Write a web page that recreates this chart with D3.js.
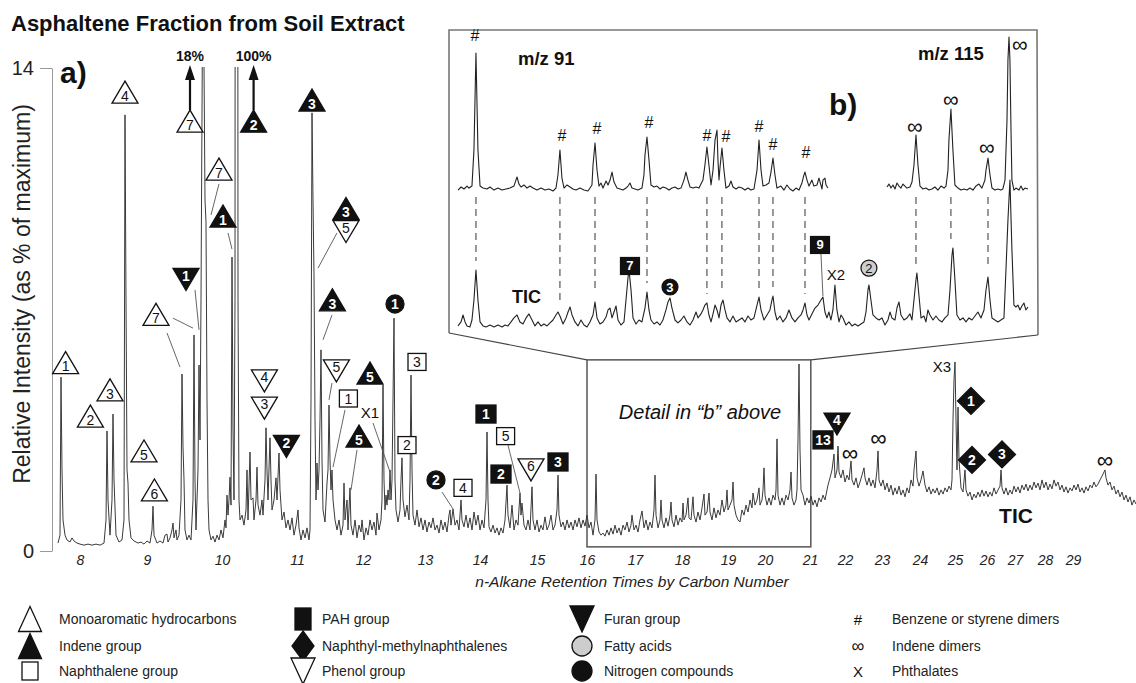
<!DOCTYPE html>
<html><head><meta charset="utf-8">
<script src="https://cdn.jsdelivr.net/npm/d3@7"></script>
<style>
body{margin:0;background:#fff}
svg{display:block}
text{font-family:"Liberation Sans",Arial,Helvetica,sans-serif}
</style>
</head><body>
<svg id="c" width="1136" height="683"></svg>
<script>
// ---------------- DATA ----------------
// Total ion chromatogram: [retention time (min), relative intensity (% of max)]
const tracePoints = [[1.45,0.23],[1.50,0.46],[1.525,5.04],[1.55,2.35],[1.575,0.90],[1.625,0.46],[1.675,0.32],[1.75,0.26],[1.80,0.38],[1.85,0.29],[1.925,0.23],[2.00,0.20],[2.10,0.17],[2.20,0.20],[2.30,0.17],[2.40,0.20],[2.50,0.17],[2.60,0.23],[2.65,0.90],[2.675,3.48],[2.70,1.48],[2.75,0.46],[2.80,1.48],[2.825,3.97],[2.85,2.06],[2.90,0.46],[2.975,0.26],[3.05,0.32],[3.10,0.90],[3.125,12.64],[3.15,7.28],[3.175,2.35],[3.20,1.97],[3.225,0.90],[3.275,0.38],[3.35,0.29],[3.45,0.23],[3.525,0.26],[3.60,0.20],[3.675,0.29],[3.75,0.23],[3.80,0.61],[3.825,1.30],[3.85,0.46],[3.925,0.23],[4.00,0.29],[4.075,0.23],[4.125,0.46],[4.175,0.49],[4.20,0.26],[4.25,0.38],[4.30,0.61],[4.325,0.81],[4.35,0.38],[4.40,0.61],[4.425,0.32],[4.475,0.46],[4.525,1.48],[4.55,5.13],[4.575,3.01],[4.60,2.06],[4.625,0.61],[4.675,0.32],[4.725,0.46],[4.775,0.32],[4.825,1.48],[4.85,6.26],[4.875,2.06],[4.90,0.61],[4.925,1.48],[4.95,2.35],[4.975,5.39],[5.00,3.22],[5.025,7.28],[5.075,18],[5.125,10.17],[5.15,9.54],[5.175,4.38],[5.20,1.48],[5.225,0.61],[5.275,0.32],[5.325,0.43],[5.375,0.26],[5.425,0.46],[5.475,0.32],[5.525,0.61],[5.575,0.38],[5.625,0.90],[5.65,0.67],[5.675,1.62],[5.70,1.04],[5.725,1.48],[5.75,2.14],[5.775,1.33],[5.80,8.52],[5.825,3.51],[5.85,1.48],[5.875,7.28],[5.91,100],[5.95,7.28],[5.975,1.48],[6.00,0.90],[6.05,1.04],[6.10,0.75],[6.15,1.19],[6.175,2.35],[6.20,0.90],[6.25,2.87],[6.275,1.48],[6.325,1.54],[6.35,0.90],[6.40,1.48],[6.425,2.43],[6.45,1.33],[6.50,1.04],[6.55,1.48],[6.575,1.04],[6.625,2.06],[6.65,3.57],[6.675,2.35],[6.70,1.48],[6.75,3.28],[6.775,2.06],[6.80,1.19],[6.85,1.48],[6.90,2.12],[6.925,1.48],[6.975,2.84],[7.00,1.77],[7.05,0.90],[7.10,1.13],[7.15,0.67],[7.20,0.90],[7.25,0.61],[7.30,0.96],[7.35,0.46],[7.40,0.75],[7.45,1.19],[7.475,0.67],[7.525,0.32],[7.575,0.61],[7.625,0.38],[7.675,0.67],[7.725,0.32],[7.75,0.61],[7.775,4.38],[7.80,12.70],[7.825,10.17],[7.85,8.00],[7.875,3.80],[7.90,1.48],[7.925,2.55],[7.95,1.77],[7.975,2.35],[8.00,3.80],[8.025,5.83],[8.05,2.64],[8.075,1.19],[8.125,0.84],[8.175,1.97],[8.20,2.35],[8.225,4.23],[8.25,2.64],[8.275,1.77],[8.30,2.35],[8.325,1.48],[8.375,0.90],[8.425,0.61],[8.475,0.90],[8.525,0.46],[8.575,0.75],[8.60,1.97],[8.625,0.90],[8.675,1.48],[8.70,0.61],[8.75,1.83],[8.775,0.75],[8.825,0.46],[8.875,0.90],[8.925,0.38],[8.975,0.75],[9.025,0.55],[9.05,0.90],[9.10,0.32],[9.15,0.67],[9.20,0.46],[9.25,0.90],[9.30,0.61],[9.35,0.84],[9.40,0.46],[9.425,1.10],[9.475,0.61],[9.525,0.90],[9.55,1.48],[9.575,4.81],[9.60,2.06],[9.625,1.19],[9.65,1.62],[9.675,1.33],[9.70,1.77],[9.725,1.48],[9.75,2.35],[9.775,1.48],[9.80,2.06],[9.825,4.38],[9.85,6.75],[9.875,2.06],[9.90,1.19],[9.95,0.84],[10.00,1.19],[10.025,2.06],[10.05,2.70],[10.075,1.48],[10.125,0.99],[10.175,1.33],[10.225,0.90],[10.25,2.06],[10.275,5.10],[10.30,2.35],[10.325,1.04],[10.375,0.75],[10.425,1.19],[10.475,0.70],[10.525,0.96],[10.575,0.61],[10.625,0.90],[10.675,0.55],[10.725,0.84],[10.775,0.67],[10.825,0.96],[10.875,0.61],[10.925,0.75],[10.975,0.52],[11.025,0.90],[11.075,0.61],[11.125,0.84],[11.175,0.55],[11.225,1.04],[11.25,1.19],[11.275,0.75],[11.325,1.22],[11.375,0.75],[11.425,0.90],[11.475,0.61],[11.525,1.48],[11.55,0.90],[11.60,0.70],[11.65,1.04],[11.70,0.67],[11.75,0.96],[11.80,0.61],[11.85,1.13],[11.90,0.75],[11.95,1.04],[12.00,0.61],[12.05,0.90],[12.10,0.67],[12.15,1.48],[12.175,3.45],[12.20,1.48],[12.225,0.70],[12.275,0.55],[12.325,0.75],[12.375,0.52],[12.425,0.67],[12.475,0.46],[12.525,0.67],[12.575,0.52],[12.625,0.90],[12.675,1.91],[12.70,1.04],[12.75,0.67],[12.80,1.33],[12.85,0.61],[12.90,0.90],[12.95,0.75],[13.00,1.68],[13.025,1.04],[13.05,1.39],[13.10,0.75],[13.15,0.61],[13.20,0.90],[13.25,0.61],[13.30,1.86],[13.325,0.90],[13.375,0.61],[13.425,0.90],[13.475,0.55],[13.525,0.75],[13.575,0.61],[13.625,0.99],[13.675,0.61],[13.725,0.75],[13.775,1.04],[13.825,0.61],[13.875,0.75],[13.925,1.19],[13.95,2.20],[13.975,1.04],[14.025,0.70],[14.075,0.84],[14.125,0.61],[14.175,0.90],[14.225,0.67],[14.275,0.84],[14.325,0.61],[14.375,0.90],[14.425,0.70],[14.475,0.96],[14.525,0.67],[14.575,0.90],[14.625,0.72],[14.675,1.04],[14.725,0.67],[14.775,0.84],[14.825,0.46],[14.875,0.90],[14.90,2.23],[14.925,0.90],[14.975,0.55],[15.025,0.46],[15.075,0.52],[15.125,0.43],[15.175,0.61],[15.225,0.46],[15.275,0.67],[15.325,0.49],[15.375,0.75],[15.425,0.52],[15.475,0.67],[15.525,0.46],[15.575,0.75],[15.625,0.61],[15.675,0.84],[15.725,0.55],[15.775,0.75],[15.80,1.04],[15.85,0.61],[15.90,0.75],[15.95,0.55],[16.00,0.90],[16.05,1.16],[16.10,0.67],[16.15,0.90],[16.20,0.61],[16.25,0.84],[16.30,0.67],[16.35,1.19],[16.375,2.20],[16.40,1.04],[16.45,0.67],[16.50,0.90],[16.525,1.48],[16.55,0.90],[16.60,0.67],[16.65,0.96],[16.70,0.72],[16.75,1.04],[16.775,1.42],[16.80,0.90],[16.85,0.70],[16.90,1.04],[16.95,0.75],[17.00,0.96],[17.05,0.84],[17.075,1.39],[17.10,0.90],[17.15,1.04],[17.20,1.54],[17.225,0.96],[17.275,0.90],[17.325,1.57],[17.35,1.04],[17.40,0.84],[17.45,1.13],[17.50,0.90],[17.55,1.25],[17.60,1.65],[17.625,1.04],[17.675,1.13],[17.725,1.68],[17.75,1.13],[17.80,0.90],[17.85,1.25],[17.90,0.96],[17.95,1.19],[18.00,1.04],[18.05,1.48],[18.10,1.13],[18.15,1.33],[18.175,1.77],[18.20,1.19],[18.25,1.33],[18.30,1.48],[18.325,2.00],[18.35,1.33],[18.40,1.04],[18.45,0.90],[18.50,0.84],[18.55,1.19],[18.60,1.04],[18.65,1.33],[18.70,1.13],[18.75,1.48],[18.80,1.25],[18.825,1.68],[18.875,1.33],[18.925,1.48],[18.975,1.83],[19.00,1.33],[19.05,1.48],[19.075,1.77],[19.10,2.41],[19.125,1.62],[19.175,1.33],[19.225,1.54],[19.275,1.33],[19.325,1.62],[19.375,1.48],[19.40,1.77],[19.425,3.25],[19.45,1.62],[19.50,1.33],[19.55,1.54],[19.60,1.33],[19.65,1.62],[19.70,1.48],[19.75,1.77],[19.775,2.29],[19.80,1.54],[19.85,1.33],[19.90,1.48],[19.925,1.77],[19.95,3.22],[19.975,5.42],[20.00,2.93],[20.025,1.77],[20.075,1.62],[20.125,1.33],[20.175,1.54],[20.225,1.39],[20.275,1.59],[20.325,1.33],[20.375,1.48],[20.425,1.28],[20.475,1.54],[20.525,1.42],[20.575,1.62],[20.625,1.48],[20.675,1.77],[20.70,1.91],[20.75,2.12],[20.80,2.35],[20.85,2.81],[20.875,2.12],[20.925,2.35],[20.95,3.04],[20.975,2.29],[21.025,2.12],[21.075,2.35],[21.125,2.00],[21.175,2.20],[21.225,2.06],[21.275,2.61],[21.30,2.06],[21.35,1.91],[21.40,2.12],[21.45,1.83],[21.50,2.00],[21.55,2.20],[21.60,2.41],[21.625,2.12],[21.675,1.91],[21.725,2.12],[21.775,1.88],[21.825,2.06],[21.875,1.83],[21.925,2.35],[21.95,2.90],[21.975,2.06],[22.025,1.88],[22.075,2.06],[22.125,1.77],[22.175,1.97],[22.225,1.71],[22.275,1.91],[22.325,1.62],[22.375,1.83],[22.425,1.65],[22.475,1.88],[22.525,1.62],[22.575,1.77],[22.625,1.57],[22.675,1.83],[22.725,1.68],[22.775,2.06],[22.825,1.88],[22.85,2.35],[22.90,2.90],[22.925,2.12],[22.975,1.88],[23.025,2.06],[23.075,2.32],[23.125,1.91],[23.175,1.71],[23.225,1.86],[23.275,1.65],[23.325,1.80],[23.375,1.68],[23.425,1.83],[23.475,1.62],[23.525,1.77],[23.575,1.65],[23.625,1.83],[23.675,1.71],[23.725,1.88],[23.775,1.77],[23.80,2.06],[23.825,3.80],[23.85,4.96],[23.875,5.48],[23.90,3.80],[23.925,2.35],[23.95,4.17],[23.975,2.64],[24.025,1.83],[24.075,1.71],[24.125,2.35],[24.15,1.77],[24.20,1.59],[24.25,1.71],[24.30,1.48],[24.35,1.65],[24.40,1.54],[24.45,1.71],[24.50,1.57],[24.55,1.77],[24.60,1.59],[24.65,1.74],[24.70,1.57],[24.75,1.71],[24.80,1.59],[24.85,1.83],[24.90,1.65],[24.95,1.77],[25.00,1.88],[25.025,2.35],[25.05,1.83],[25.10,1.65],[25.15,1.83],[25.20,1.62],[25.25,1.77],[25.30,1.65],[25.35,1.88],[25.40,1.71],[25.45,1.86],[25.50,1.68],[25.55,1.91],[25.60,1.77],[25.65,1.94],[25.70,1.74],[25.75,1.91],[25.80,1.77],[25.85,2.00],[25.90,1.83],[25.95,1.97],[26.00,1.77],[26.05,2.06],[26.10,1.83],[26.15,2.00],[26.20,1.77],[26.25,1.94],[26.30,1.80],[26.35,2.06],[26.40,1.88],[26.45,2.00],[26.50,1.77],[26.55,1.91],[26.60,1.71],[26.65,1.86],[26.70,1.68],[26.75,1.83],[26.80,1.74],[26.85,1.91],[26.90,1.77],[26.95,1.94],[27.00,1.71],[27.05,1.83],[27.10,1.68],[27.15,1.86],[27.20,1.74],[27.25,1.91],[27.30,1.83],[27.35,2.00],[27.40,1.86],[27.45,1.94],[27.50,2.06],[27.55,2.17],[27.60,2.29],[27.625,2.35],[27.65,2.12],[27.70,1.91],[27.75,2.00],[27.80,1.77],[27.85,1.88],[27.90,1.65],[27.95,1.77],[28.00,1.57],[28.05,1.71],[28.10,1.48],[28.15,1.62],[28.20,1.42],[28.25,1.57],[28.30,1.33],[28.35,1.48],[28.40,1.36]];

// n-alkane carbon numbers and their retention times (min)
const carbonNumbers = [8,9,10,11,12,13,14,15,16,17,18,19,20,21,22,23,24,25,26,27,28,29];
const carbonTimes   = [2.00,3.675,5.55,7.425,9.075,10.625,12.00,13.425,14.675,15.875,17.05,18.20,19.125,20.25,21.125,22.05,23.00,23.875,24.675,25.375,26.125,26.825];
const yTickValues = [0, 14];
const detailWindow = [14.675, 20.27];   // C16 - C21 region shown in b)
const detailHeight = [0.12, 5.54];

// Inset b): m/z 91, m/z 115 and TIC traces [time (min), relative abundance %]
const insetMz91 = [[14.725,0.6],[14.754,2.6],[14.782,1.3],[14.811,3.2],[14.830,1.9],[14.858,3.2],[14.877,26.6],[14.896,89.6],[14.915,26.6],[14.935,3.2],[14.963,1.9],[15.001,1.3],[15.030,2.6],[15.068,0.6],[15.106,1.9],[15.144,0.6],[15.182,1.3],[15.220,1.9],[15.258,3.2],[15.277,7.1],[15.287,9.1],[15.306,4.5],[15.325,2.6],[15.354,3.9],[15.382,1.9],[15.411,3.2],[15.439,1.9],[15.477,0.6],[15.515,1.9],[15.554,0.6],[15.592,1.3],[15.630,0],[15.658,1.9],[15.677,10.4],[15.696,26.6],[15.715,8.4],[15.735,1.9],[15.763,3.9],[15.792,2.6],[15.820,1.3],[15.849,0.6],[15.887,1.9],[15.925,0.6],[15.963,0],[16.001,3.9],[16.011,16.9],[16.030,31.2],[16.049,13.6],[16.068,3.2],[16.087,5.2],[16.106,1.9],[16.135,6.5],[16.154,3.9],[16.173,7.1],[16.192,12.3],[16.211,5.8],[16.239,1.9],[16.268,1.3],[16.296,0.6],[16.325,1.9],[16.344,3.2],[16.363,5.2],[16.382,1.9],[16.411,1.3],[16.439,0.6],[16.477,1.9],[16.496,10.4],[16.506,23.4],[16.525,35.1],[16.544,20.1],[16.563,3.9],[16.592,2.6],[16.620,3.2],[16.649,1.3],[16.677,2.6],[16.706,1.9],[16.735,0.6],[16.763,1.9],[16.792,2.6],[16.820,1.3],[16.849,1.9],[16.877,7.1],[16.896,12.3],[16.915,7.1],[16.935,2.6],[16.963,1.9],[16.992,2.6],[17.020,1.9],[17.039,4.5],[17.058,7.1],[17.077,16.9],[17.096,28.6],[17.115,16.9],[17.135,3.9],[17.154,13.6],[17.173,33.1],[17.192,39.6],[17.201,20.1],[17.211,7.1],[17.220,14.9],[17.239,27.9],[17.258,13.6],[17.277,1.9],[17.306,3.2],[17.325,6.5],[17.344,2.6],[17.373,1.3],[17.401,2.6],[17.430,1.9],[17.458,0.6],[17.487,1.9],[17.515,0.6],[17.544,1.3],[17.573,13.6],[17.592,33.1],[17.611,13.6],[17.630,3.2],[17.658,3.9],[17.687,5.2],[17.706,12.3],[17.725,21.4],[17.744,10.4],[17.763,1.9],[17.801,3.2],[17.830,0.6],[17.858,3.9],[17.887,1.3],[17.915,0],[17.944,1.9],[17.973,0.6],[18.001,5.2],[18.020,10.4],[18.030,12.3],[18.049,7.1],[18.068,3.2],[18.096,7.1],[18.115,3.2],[18.144,3.9],[18.163,8.4],[18.192,1.3],[18.201,7.1],[18.220,8.4],[18.230,3.9],[18.249,1.9]];
const insetMz115 = [[18.811,2.6],[18.830,4.5],[18.849,1.9],[18.868,3.9],[18.887,1.3],[18.906,5.2],[18.925,3.2],[18.944,1.9],[18.963,4.5],[18.982,3.2],[19.001,1.9],[19.030,2.6],[19.049,5.8],[19.068,16.9],[19.087,36.4],[19.106,16.9],[19.125,3.2],[19.154,1.3],[19.182,1.9],[19.211,0.6],[19.239,1.3],[19.268,2.6],[19.296,0.6],[19.325,3.2],[19.354,1.9],[19.373,3.2],[19.392,13.6],[19.401,33.1],[19.420,53.2],[19.439,26.6],[19.458,3.9],[19.487,1.9],[19.515,0.6],[19.544,1.3],[19.573,0.6],[19.601,1.9],[19.630,0.6],[19.658,3.2],[19.687,4.5],[19.715,1.9],[19.744,7.1],[19.754,13.6],[19.773,21.4],[19.792,10.4],[19.811,1.9],[19.839,0.6],[19.868,1.3],[19.896,0.6],[19.915,1.3],[19.935,7.1],[19.954,46.1],[19.963,85.1],[19.973,100],[19.982,85.1],[19.992,39.6],[20.001,7.1],[20.020,0.6],[20.039,1.9],[20.068,0.6],[20.087,3.2],[20.106,0.6],[20.125,1.9],[20.154,1.3]];
const insetTic = [[14.725,1.4],[14.754,4.1],[14.773,8.8],[14.792,4.1],[14.811,1.4],[14.839,0.7],[14.858,5.4],[14.877,18.9],[14.896,39.2],[14.915,18.9],[14.935,4.1],[14.963,1.4],[14.992,0.7],[15.030,2.0],[15.068,0.7],[15.106,2.0],[15.144,0.7],[15.173,2.0],[15.201,1.4],[15.230,4.1],[15.258,6.8],[15.287,8.8],[15.315,4.1],[15.344,2.7],[15.373,6.8],[15.401,9.5],[15.430,5.4],[15.458,1.4],[15.487,4.1],[15.515,1.4],[15.544,2.7],[15.573,1.4],[15.601,3.4],[15.630,5.4],[15.658,8.8],[15.677,10.8],[15.696,8.1],[15.725,2.7],[15.754,6.8],[15.773,10.8],[15.792,14.2],[15.811,8.8],[15.839,4.1],[15.868,1.4],[15.896,5.4],[15.925,2.0],[15.954,0.7],[15.982,4.1],[16.011,8.8],[16.030,17.6],[16.049,6.8],[16.077,2.7],[16.106,4.1],[16.135,7.4],[16.154,12.2],[16.173,13.5],[16.192,6.8],[16.211,10.8],[16.230,14.9],[16.249,5.4],[16.277,2.0],[16.306,4.1],[16.325,18.9],[16.344,33.8],[16.354,39.2],[16.373,25.7],[16.392,6.8],[16.420,2.7],[16.449,5.4],[16.477,4.1],[16.506,13.5],[16.525,24.3],[16.544,12.2],[16.563,5.4],[16.592,2.7],[16.620,4.1],[16.649,2.0],[16.677,5.4],[16.706,12.2],[16.725,17.6],[16.744,20.3],[16.763,13.5],[16.792,5.4],[16.820,3.4],[16.849,5.4],[16.877,8.1],[16.906,4.1],[16.935,2.0],[16.963,5.4],[16.992,10.8],[17.011,6.8],[17.039,9.5],[17.058,12.2],[17.077,15.5],[17.096,16.9],[17.115,8.8],[17.135,4.1],[17.154,9.5],[17.173,15.5],[17.192,12.2],[17.211,6.8],[17.230,15.5],[17.249,18.9],[17.268,12.2],[17.287,6.8],[17.315,4.1],[17.344,8.1],[17.373,4.1],[17.401,5.4],[17.430,6.8],[17.458,4.1],[17.487,8.1],[17.515,5.4],[17.544,6.8],[17.573,15.5],[17.592,20.9],[17.611,12.2],[17.639,5.4],[17.668,8.8],[17.696,12.2],[17.715,18.9],[17.725,21.6],[17.744,10.8],[17.763,5.4],[17.792,8.1],[17.820,4.1],[17.849,6.8],[17.877,12.2],[17.906,6.8],[17.935,4.1],[17.963,6.8],[17.992,8.8],[18.011,12.2],[18.030,16.9],[18.049,8.8],[18.068,5.4],[18.096,9.5],[18.125,13.5],[18.154,15.5],[18.182,18.9],[18.201,20.9],[18.220,10.8],[18.239,6.8],[18.258,10.8],[18.277,5.4],[18.296,12.2],[18.315,29.1],[18.334,12.2],[18.354,4.1],[18.373,8.8],[18.392,6.8],[18.420,2.0],[18.449,4.1],[18.477,1.4],[18.506,2.7],[18.535,1.4],[18.563,2.7],[18.592,4.1],[18.611,10.8],[18.630,25.7],[18.639,29.1],[18.658,18.9],[18.677,8.8],[18.706,6.8],[18.735,5.4],[18.763,6.8],[18.792,2.0],[18.820,5.4],[18.839,10.8],[18.858,6.8],[18.887,5.4],[18.906,13.5],[18.925,17.6],[18.944,8.8],[18.973,5.4],[19.001,6.8],[19.030,9.5],[19.049,5.4],[19.068,18.9],[19.087,32.4],[19.096,37.2],[19.115,22.3],[19.135,6.8],[19.163,8.1],[19.182,4.1],[19.201,12.2],[19.220,8.8],[19.249,5.4],[19.277,8.1],[19.306,5.4],[19.335,4.1],[19.363,6.8],[19.392,8.8],[19.411,25.7],[19.430,49.3],[19.439,54.1],[19.458,32.4],[19.477,8.8],[19.506,5.4],[19.535,6.8],[19.563,4.1],[19.592,6.8],[19.620,5.4],[19.649,8.1],[19.677,10.8],[19.706,6.8],[19.735,12.2],[19.754,25.7],[19.773,34.5],[19.792,18.9],[19.811,6.8],[19.839,5.4],[19.868,4.1],[19.896,5.4],[19.925,6.8],[19.944,39.2],[19.963,73.0],[19.982,100],[20.001,52.7],[20.020,15.5],[20.039,14.2],[20.058,15.5],[20.077,12.2],[20.096,14.9],[20.115,16.9],[20.134,12.2],[20.154,14.2]];
const insetWindow = [14.725, 20.154];
// m/z 91 benzene/styrene dimer peaks (#) and m/z 115 indene dimer peaks (∞)
const dimerTimes91  = [14.896,15.696,16.030,16.525,17.096,17.239,17.592,17.725,18.030];
const dimerTimes115 = [19.087,19.420,19.773];
const hashLabels = [[14.887,97.4],[15.715,32.5],[16.049,37.0],[16.544,40.9],[17.096,32.5],[17.277,31.8],[17.592,38.3],[17.725,26.6],[18.039,21.4]];
const infLabels115 = [[19.077,37.0],[19.420,54.5],[19.763,23.4],[20.077,90.3]];

// Compound markers on the TIC: type, number, [time, % intensity]
const markers = [
 {type:'mono',label:'1',t:1.64,v:5.46},{type:'mono',label:'2',t:2.26,v:3.91},{type:'mono',label:'3',t:2.75,v:4.67},
 {type:'mono',label:'4',t:3.125,v:13.30},{type:'mono',label:'5',t:3.60,v:2.90},{type:'mono',label:'6',t:3.86,v:1.77},
 {type:'mono',label:'7',t:4.75,v:12.46},{type:'mono',label:'7',t:5.475,v:11.07},{type:'mono',label:'7',t:3.90,v:6.86},
 {type:'indene',label:'1',t:5.575,v:9.71},{type:'indene',label:'2',t:6.34,v:12.46},{type:'indene',label:'3',t:7.80,v:13.07},
 {type:'indene',label:'3',t:8.65,v:9.93},{type:'phenol',label:'5',t:8.65,v:9.26},{type:'indene',label:'3',t:8.31,v:7.28},
 {type:'furan',label:'1',t:4.65,v:7.87},{type:'phenol',label:'4',t:6.61,v:4.93},{type:'phenol',label:'3',t:6.61,v:4.14},
 {type:'furan',label:'2',t:7.16,v:3.03},{type:'phenol',label:'5',t:8.41,v:5.22},{type:'naph',label:'1',t:8.71,v:4.42},
 {type:'indene',label:'5',t:9.25,v:5.16},{type:'indene',label:'5',t:8.975,v:3.33},{type:'nitro',label:'1',t:9.875,v:7.16},
 {type:'naph',label:'3',t:10.425,v:5.48},{type:'naph',label:'2',t:10.175,v:3.07},{type:'nitro',label:'2',t:10.90,v:2.06},
 {type:'naph',label:'4',t:11.575,v:1.83},{type:'pah',label:'1',t:12.15,v:3.97},{type:'naph',label:'5',t:12.64,v:3.33},
 {type:'pah',label:'2',t:12.525,v:2.23},{type:'phenol',label:'6',t:13.275,v:2.35},{type:'pah',label:'3',t:13.95,v:2.58},
 {type:'pah',label:'13',t:20.575,v:3.22},{type:'furan',label:'4',t:20.925,v:3.68},
 {type:'diamond',label:'1',t:24.275,v:4.35},{type:'diamond',label:'2',t:24.30,v:2.64},{type:'diamond',label:'3',t:25.05,v:2.80}
];
// leader lines [t1, v1, t2, v2]
const leaders = [[4.325,6.75,4.825,6.46],[4.175,6.32,4.50,5.33],[4.875,7.57,4.975,6.41],[5.475,10.64,5.275,9.74],[5.70,9.22,5.80,8.75],[8.425,9.22,7.95,8.20],[8.30,6.84,8.075,6.12],[8.30,4.87,8.225,4.38],[8.625,4.09,8.325,2.43],[8.925,2.93,8.775,1.77],[9.325,3.71,9.75,2.29],[11.05,1.71,11.325,1.22],[12.70,3.07,13.00,1.68]];
// off-scale peaks: [time, arrow base %, arrow tip %, label]
const offScale = [[4.75,12.78,14.09,'18%'],[6.34,12.78,14.09,'100%']];
const indeneDimerMain = [[21.25,2.84],[21.96,3.28],[27.625,2.64]];
const phthalates = [{label:'X1',t:9.25,v:3.86},{label:'X3',t:23.55,v:5.19}];
// inset compound markers [time, TIC %]
const insetMarkers = [{type:'pah',label:'7',t:16.363,v:41.9},{type:'nitro',label:'3',t:16.744,v:27.7},{type:'pah',label:'9',t:18.173,v:56.1},{type:'fatty',label:'2',t:18.639,v:40.5}];
const insetLeaders = [[18.182,50.0,18.201,21.6]];
const insetPhthalate = {label:'X2',t:18.325,v:32.4};

const legendItems = [
 {type:'mono',label:'Monoaromatic hydrocarbons'},{type:'indene',label:'Indene group'},{type:'naph',label:'Naphthalene group'},
 {type:'pah',label:'PAH group'},{type:'diamond',label:'Naphthyl-methylnaphthalenes'},{type:'phenol',label:'Phenol group'},
 {type:'furan',label:'Furan group'},{type:'fatty',label:'Fatty acids'},{type:'nitro',label:'Nitrogen compounds'},
 {type:'#',label:'Benzene or styrene dimers'},{type:'∞',label:'Indene dimers'},{type:'X',label:'Phthalates'}
];

// ---------------- DRAWING ----------------
const svg = d3.select('#c');
const x = d3.scaleLinear().domain([1.3, 28.4]).range([52, 1136]);
const y = d3.scaleLinear().domain([0, 14]).range([551, 68]);
const xi = d3.scaleLinear().domain(insetWindow).range([458, 1028]);
const ym = d3.scaleLinear().domain([0, 100]).range([191, 37]);
const yt = d3.scaleLinear().domain([0, 100]).range([328, 180]);
const FILLED = new Set(['indene','pah','diamond','furan','nitro']);
const TRACE = '#3a3a3a';

function drawMarker(g, type, label, cx, cy, S) {
  const filled = FILLED.has(type);
  const fill = type === 'fatty' ? '#cdcdcd' : (filled ? '#111' : '#fff');
  let el, ty = cy;
  if (type === 'mono' || type === 'indene') {
    const w=S.tw,h=S.th;
    el = g.append('path').attr('d',`M${cx-w/2},${cy+h/2}L${cx+w/2},${cy+h/2}L${cx},${cy-h/2}Z`);
    ty = cy + h*0.17;
  } else if (type === 'phenol' || type === 'furan') {
    const w=S.dw,h=S.dh;
    el = g.append('path').attr('d',`M${cx-w/2},${cy-h/2}L${cx+w/2},${cy-h/2}L${cx},${cy+h/2}Z`);
    ty = cy - h*0.17;
  } else if (type === 'naph') {
    el = g.append('rect').attr('x',cx-S.nw/2).attr('y',cy-S.nh/2).attr('width',S.nw).attr('height',S.nh);
  } else if (type === 'pah') {
    el = g.append('rect').attr('x',cx-S.pw/2).attr('y',cy-S.ph/2).attr('width',S.pw).attr('height',S.ph);
  } else if (type === 'diamond') {
    const w=S.qw,h=S.qh;
    el = g.append('path').attr('d',`M${cx},${cy-h/2}L${cx+w/2},${cy}L${cx},${cy+h/2}L${cx-w/2},${cy}Z`);
  } else {
    el = g.append('circle').attr('cx',cx).attr('cy',cy).attr('r',S.r);
  }
  el.attr('stroke','#111').attr('stroke-width',S.sw).attr('fill',fill).attr('stroke-linejoin','miter');
  if (label) {
    g.append('text').attr('x',cx).attr('y',ty).attr('text-anchor','middle')
      .attr('dominant-baseline','central').attr('font-size',S.font)
      .attr('font-weight', filled ? 'bold' : 'normal')
      .attr('fill', filled ? '#fff' : '#111').text(label);
  }
}
const mainSize = {tw:26,th:22,dw:26,dh:22,nw:18,nh:17,pw:20,ph:18,qw:27,qh:27,r:9,sw:1.3,font:14};
const insetSize = {tw:22,th:19,dw:22,dh:19,nw:16,nh:16,pw:19,ph:17,qw:22,qh:22,r:8,sw:1.2,font:13};
const legendSize = {tw:23,th:25,dw:24,dh:26,nw:16,nh:18,pw:16,ph:22,qw:22,qh:30,r:10,sw:1.3,font:12};

// Title
svg.append('text').attr('x',11).attr('y',31).attr('font-size',22).attr('font-weight','bold').attr('fill','#111')
  .text('Asphaltene Fraction from Soil Extract');

// Inset frame and zoom connectors
const inset = svg.append('g');
inset.append('path').attr('d','M449,333L449,30L1037,30L1038,335').attr('fill','none').attr('stroke','#777').attr('stroke-width',1.6);
inset.append('line').attr('x1',449).attr('y1',333).attr('x2',x(detailWindow[0])).attr('y2',y(detailHeight[1])).attr('stroke','#444').attr('stroke-width',1.1);
inset.append('line').attr('x1',1038).attr('y1',335).attr('x2',x(detailWindow[1])).attr('y2',y(detailHeight[1])).attr('stroke','#444').attr('stroke-width',1.1);

// Detail box
svg.append('rect').attr('x',x(detailWindow[0])).attr('y',y(detailHeight[1]))
  .attr('width',x(detailWindow[1])-x(detailWindow[0])).attr('height',y(detailHeight[0])-y(detailHeight[1]))
  .attr('fill','none').attr('stroke','#555').attr('stroke-width',1.5);

// Main trace (clipped at top of scale)
svg.append('clipPath').attr('id','plotClip').append('rect').attr('x',52).attr('y',67).attr('width',1090).attr('height',520);
const line = d3.line().x(d=>x(d[0])).y(d=>y(d[1]));
svg.append('path').datum(tracePoints).attr('d',line).attr('clip-path','url(#plotClip)')
  .attr('fill','none').attr('stroke',TRACE).attr('stroke-width',1).attr('stroke-linejoin','round');

// Y axis
const yAxis = d3.axisLeft(y).tickValues(yTickValues).tickSize(12).tickSizeOuter(0).tickPadding(6);
const ya = svg.append('g').attr('transform','translate(52,0)').call(yAxis);
ya.select('.domain').attr('stroke','#999');
ya.selectAll('.tick line').attr('stroke','#999');
ya.selectAll('.tick text').attr('font-size',20).attr('fill','#222').attr('font-family','"Liberation Sans",Arial,sans-serif');
svg.append('text').attr('transform','translate(30,294) rotate(-90)').attr('text-anchor','middle')
  .attr('font-size',23).attr('fill','#222').text('Relative Intensity (as % of maximum)');

// X axis (carbon number labels)
const xAxis = d3.axisBottom(x).tickValues(carbonTimes).tickFormat((d,i)=>carbonNumbers[i]).tickSize(0).tickPadding(4);
const xa = svg.append('g').attr('transform','translate(0,551)').call(xAxis);
xa.select('.domain').remove();
xa.selectAll('.tick text').attr('font-size',14).attr('font-style','italic').attr('fill','#222').attr('font-family','"Liberation Sans",Arial,sans-serif');
svg.append('text').attr('x',632).attr('y',587).attr('text-anchor','middle').attr('font-size',15.5).attr('font-style','italic').attr('fill','#222')
  .text('n-Alkane Retention Times by Carbon Number');

// panel letters
svg.append('text').attr('x',60).attr('y',83).attr('font-size',30).attr('font-weight','bold').attr('fill','#111').text('a)');

// Leaders
svg.append('g').selectAll('line').data(leaders).join('line')
  .attr('x1',d=>x(d[0])).attr('y1',d=>y(d[1])).attr('x2',d=>x(d[2])).attr('y2',d=>y(d[3]))
  .attr('stroke','#555').attr('stroke-width',0.9);

// Off-scale arrows
const arr = svg.append('g');
offScale.forEach(d=>{
  const cx = x(d[0]), yb = y(d[1]), yp = y(d[2]);
  arr.append('line').attr('x1',cx).attr('x2',cx).attr('y1',yb).attr('y2',yp+12).attr('stroke','#111').attr('stroke-width',2.2);
  arr.append('path').attr('d',`M${cx},${yp}L${cx+5},${yp+15}L${cx-5},${yp+15}Z`).attr('fill','#111');
  arr.append('text').attr('x',cx).attr('y',yp-4).attr('text-anchor','middle').attr('font-size',14).attr('font-weight','bold').attr('fill','#111').text(d[3]);
});

// Markers
const mg = svg.append('g');
markers.forEach(m=>drawMarker(mg, m.type, m.label, x(m.t), y(m.v), mainSize));

// Indene dimers on main trace
svg.append('g').selectAll('text').data(indeneDimerMain).join('text')
  .attr('x',d=>x(d[0])).attr('y',d=>y(d[1])).attr('text-anchor','middle').attr('dominant-baseline','central')
  .attr('font-size',23).attr('fill','#111').text('∞');
// Phthalates
svg.append('g').selectAll('text').data(phthalates).join('text')
  .attr('x',d=>x(d.t)).attr('y',d=>y(d.v)).attr('text-anchor','middle').attr('font-size',15).attr('fill','#111').text(d=>d.label);

svg.append('text').attr('x',x(17.5)).attr('y',y(3.83)).attr('text-anchor','middle').attr('font-size',20).attr('font-style','italic').attr('fill','#111')
  .text('Detail in \u201cb\u201d above');
svg.append('text').attr('x',x(25.4)).attr('y',y(0.80)).attr('text-anchor','middle').attr('font-size',21).attr('font-weight','bold').attr('fill','#111').text('TIC');

// ---- Inset contents ----
const lineM = d3.line().x(d=>xi(d[0])).y(d=>ym(d[1]));
const lineT = d3.line().x(d=>xi(d[0])).y(d=>yt(d[1]));
inset.append('path').datum(insetMz91).attr('d',lineM).attr('fill','none').attr('stroke','#222').attr('stroke-width',1.1).attr('stroke-linejoin','round');
inset.append('path').datum(insetMz115).attr('d',lineM).attr('fill','none').attr('stroke','#222').attr('stroke-width',1.1).attr('stroke-linejoin','round');
inset.append('path').datum(insetTic).attr('d',lineT).attr('fill','none').attr('stroke','#222').attr('stroke-width',1.1).attr('stroke-linejoin','round');

function ticPeakNear(t){ // highest TIC value within ±0.03 min
  let best = 0; insetTic.forEach(p=>{ if (Math.abs(p[0]-t) <= 0.03 && p[1] > best) best = p[1]; }); return best;
}
inset.append('g').selectAll('line').data(dimerTimes91.concat(dimerTimes115)).join('line')
  .attr('x1',d=>xi(d)).attr('x2',d=>xi(d)).attr('y1',197).attr('y2',d=>yt(ticPeakNear(d))-9)
  .attr('stroke','#333').attr('stroke-width',1).attr('stroke-dasharray','7,5');

inset.append('g').selectAll('text').data(hashLabels).join('text')
  .attr('x',d=>xi(d[0])).attr('y',d=>ym(d[1])).attr('text-anchor','middle').attr('font-size',16).attr('fill','#111').text('#');
inset.append('g').selectAll('text').data(infLabels115).join('text')
  .attr('x',d=>xi(d[0])).attr('y',d=>ym(d[1])).attr('text-anchor','middle').attr('font-size',22).attr('fill','#111').text('∞');

inset.append('g').selectAll('line').data(insetLeaders).join('line')
  .attr('x1',d=>xi(d[0])).attr('y1',d=>yt(d[1])).attr('x2',d=>xi(d[2])).attr('y2',d=>yt(d[3]))
  .attr('stroke','#555').attr('stroke-width',0.9);
insetMarkers.forEach(m=>drawMarker(inset, m.type, m.label, xi(m.t), yt(m.v), insetSize));
inset.append('text').attr('x',xi(insetPhthalate.t)).attr('y',yt(insetPhthalate.v)).attr('text-anchor','middle').attr('font-size',15).attr('fill','#111').text(insetPhthalate.label);

inset.append('text').attr('x',518).attr('y',65).attr('font-size',18.5).attr('font-weight','bold').attr('fill','#111').text('m/z 91');
inset.append('text').attr('x',918).attr('y',60).attr('font-size',18.5).attr('font-weight','bold').attr('fill','#111').text('m/z 115');
inset.append('text').attr('x',829).attr('y',115).attr('font-size',30).attr('font-weight','bold').attr('fill','#111').text('b)');
inset.append('text').attr('x',512).attr('y',303).attr('font-size',18).attr('font-weight','bold').attr('fill','#111').text('TIC');

// ---- Legend ----
const legSymX = [30, 303, 582, 858], legTextX = [59, 322, 604, 892], legRowY = [619, 646, 671];
const lg = svg.append('g');
legendItems.forEach((it,i)=>{
  const c = Math.floor(i/3), r = i%3, cx = legSymX[c], cy = legRowY[r];
  if (it.type === '#' || it.type === '∞' || it.type === 'X') {
    lg.append('text').attr('x',cx).attr('y',cy).attr('text-anchor','middle').attr('dominant-baseline','central')
      .attr('font-size', it.type === '∞' ? 18 : 15).attr('fill','#111').text(it.type);
  } else {
    drawMarker(lg, it.type, null, cx, cy, legendSize);
  }
  lg.append('text').attr('x',legTextX[c]).attr('y',cy).attr('dominant-baseline','central')
    .attr('font-size',14).attr('fill','#222').text(it.label);
});
</script>
</body></html>
